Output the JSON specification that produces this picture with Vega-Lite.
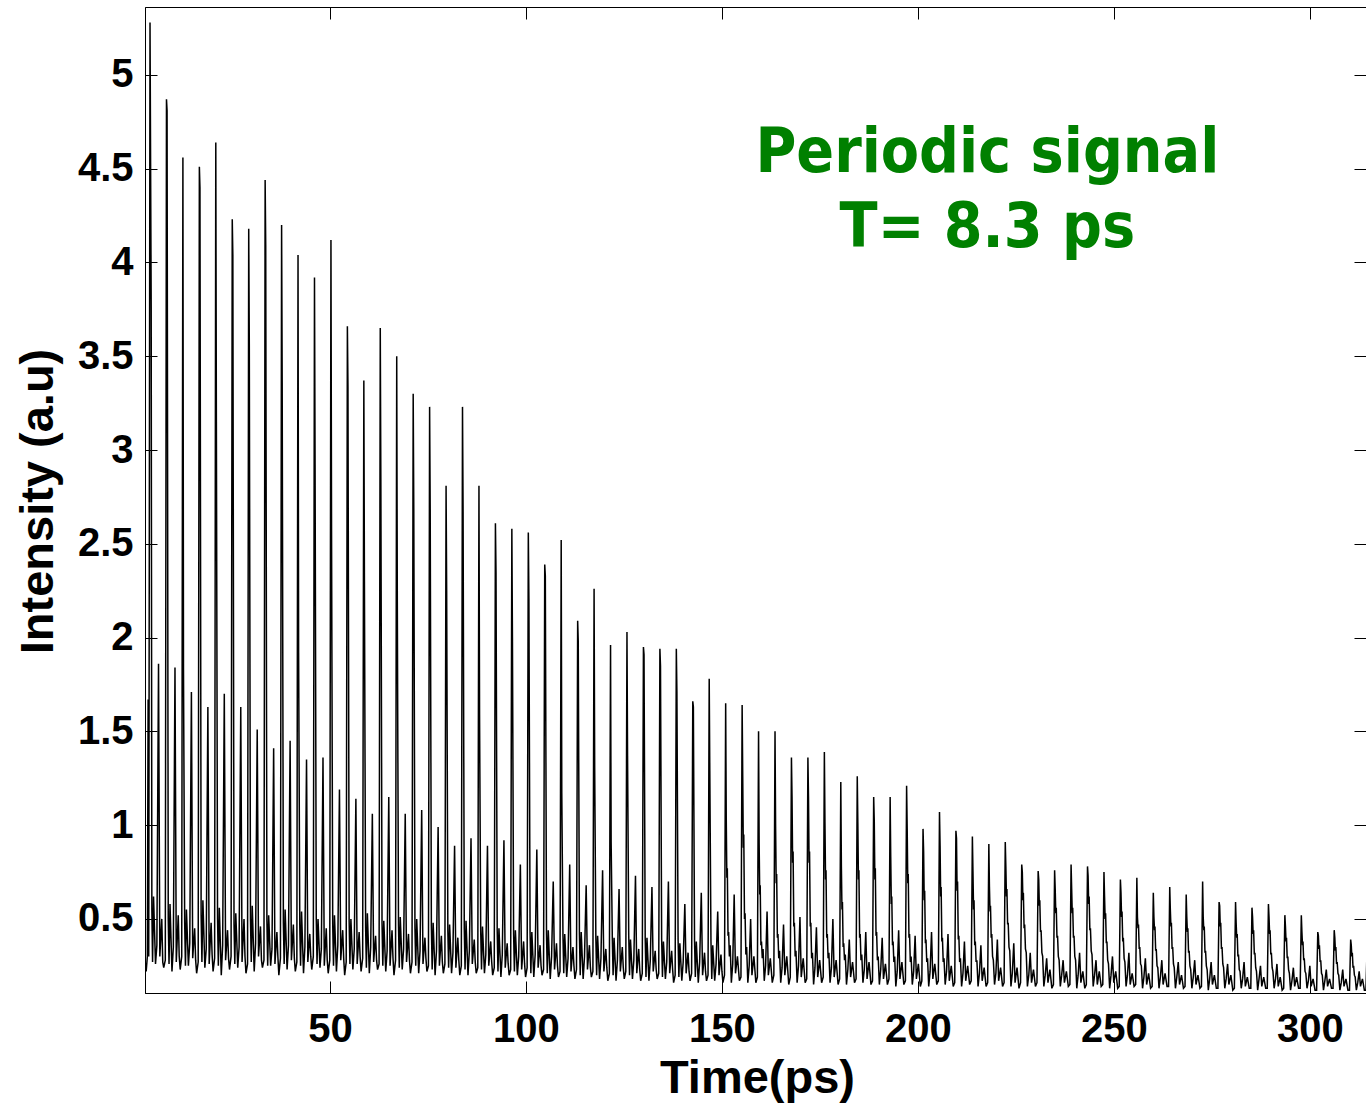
{
"$schema":"https://vega.github.io/schema/vega-lite/v6.json",
"width":1221,"height":986,
"autosize":"none",
"padding":{"left":145,"top":7,"right":0,"bottom":112},
"background":"white",
"config":{
 "view":{"stroke":"black","strokeWidth":1},
 "axis":{"grid":false,"domainColor":"black","domainWidth":1,"tickColor":"black","tickWidth":1,"tickSize":-12,"labelColor":"black","labelFont":"Liberation Sans","labelFontWeight":"bold","labelFontSize":40,"labelFlush":false,"labelOverlap":false,"titleFont":"Liberation Sans","titleFontWeight":"bold","titleFontSize":47,"titleColor":"black"}
},
"datasets":{
"notes":[{"t":217.7,"v":4.483,"label":"Periodic signal"},{"t":217.7,"v":4.084,"label":"T= 8.3 ps"}],
"signal":[
{"t":2.8,"v":0.26},{"t":3.1,"v":0.22},{"t":3.4,"v":0.3},{"t":3.6,"v":1.67},{"t":3.75,"v":0.3},
{"t":4.08,"v":5.28},{"t":4.38,"v":3.76},{"t":4.55,"v":0.55},{"t":4.73,"v":0.27},{"t":4.98,"v":0.62},{"t":5.48,"v":0.26},{"t":5.83,"v":0.36},{"t":6.25,"v":1.86},{"t":6.58,"v":0.3},{"t":7.08,"v":0.5},{"t":7.33,"v":0.27},{"t":7.58,"v":0.24},
{"t":7.98,"v":0.28},{"t":8.28,"v":4.87},{"t":8.43,"v":4.81},{"t":8.73,"v":0.5},{"t":8.93,"v":0.26},{"t":9.18,"v":0.58},{"t":9.68,"v":0.22},{"t":10.03,"v":0.35},{"t":10.45,"v":1.84},{"t":10.78,"v":0.27},{"t":11.28,"v":0.52},{"t":11.53,"v":0.3},{"t":11.78,"v":0.23},
{"t":12.17,"v":0.3},{"t":12.47,"v":4.56},{"t":12.62,"v":1.83},{"t":12.92,"v":0.48},{"t":13.12,"v":0.25},{"t":13.37,"v":0.55},{"t":13.87,"v":0.25},{"t":14.22,"v":0.37},{"t":14.64,"v":1.71},{"t":14.97,"v":0.29},{"t":15.47,"v":0.45},{"t":15.72,"v":0.28},{"t":15.97,"v":0.21},
{"t":16.37,"v":0.27},{"t":16.67,"v":4.51},{"t":16.82,"v":4.4},{"t":17.12,"v":0.52},{"t":17.32,"v":0.27},{"t":17.57,"v":0.6},{"t":18.07,"v":0.24},{"t":18.42,"v":0.34},{"t":18.84,"v":1.63},{"t":19.17,"v":0.26},{"t":19.67,"v":0.48},{"t":19.92,"v":0.31},{"t":20.17,"v":0.22},
{"t":20.56,"v":0.29},{"t":20.86,"v":4.64},{"t":21.01,"v":3.15},{"t":21.31,"v":0.5},{"t":21.51,"v":0.25},{"t":21.76,"v":0.56},{"t":22.26,"v":0.2},{"t":22.61,"v":0.36},{"t":23.03,"v":1.7},{"t":23.36,"v":0.28},{"t":23.86,"v":0.44},{"t":24.11,"v":0.29},{"t":24.36,"v":0.23},
{"t":24.76,"v":0.3},{"t":25.06,"v":4.23},{"t":25.21,"v":4.04},{"t":25.51,"v":0.47},{"t":25.71,"v":0.26},{"t":25.96,"v":0.53},{"t":26.46,"v":0.24},{"t":26.81,"v":0.35},{"t":27.23,"v":1.63},{"t":27.56,"v":0.27},{"t":28.06,"v":0.5},{"t":28.31,"v":0.3},{"t":28.56,"v":0.21},
{"t":28.96,"v":0.26},{"t":29.26,"v":4.18},{"t":29.41,"v":3.56},{"t":29.71,"v":0.5},{"t":29.91,"v":0.27},{"t":30.16,"v":0.57},{"t":30.66,"v":0.22},{"t":31.01,"v":0.37},{"t":31.43,"v":1.51},{"t":31.76,"v":0.3},{"t":32.26,"v":0.46},{"t":32.51,"v":0.28},{"t":32.76,"v":0.24},
{"t":33.15,"v":0.28},{"t":33.45,"v":4.44},{"t":33.6,"v":4.09},{"t":33.9,"v":0.49},{"t":34.1,"v":0.25},{"t":34.35,"v":0.52},{"t":34.85,"v":0.25},{"t":35.2,"v":0.34},{"t":35.62,"v":1.41},{"t":35.95,"v":0.26},{"t":36.45,"v":0.43},{"t":36.7,"v":0.3},{"t":36.95,"v":0.2},
{"t":37.35,"v":0.29},{"t":37.65,"v":4.2},{"t":37.8,"v":3.36},{"t":38.1,"v":0.48},{"t":38.3,"v":0.26},{"t":38.55,"v":0.55},{"t":39.05,"v":0.23},{"t":39.4,"v":0.36},{"t":39.82,"v":1.45},{"t":40.15,"v":0.28},{"t":40.65,"v":0.47},{"t":40.9,"v":0.29},{"t":41.15,"v":0.22},
{"t":41.54,"v":0.27},{"t":41.84,"v":4.04},{"t":41.99,"v":1.92},{"t":42.29,"v":0.46},{"t":42.49,"v":0.25},{"t":42.74,"v":0.54},{"t":43.24,"v":0.21},{"t":43.59,"v":0.35},{"t":44.01,"v":1.35},{"t":44.34,"v":0.27},{"t":44.84,"v":0.42},{"t":45.09,"v":0.3},{"t":45.34,"v":0.23},
{"t":45.74,"v":0.3},{"t":46.04,"v":3.92},{"t":46.19,"v":2.92},{"t":46.49,"v":0.5},{"t":46.69,"v":0.26},{"t":46.94,"v":0.5},{"t":47.44,"v":0.24},{"t":47.79,"v":0.34},{"t":48.21,"v":1.36},{"t":48.54,"v":0.25},{"t":49.04,"v":0.45},{"t":49.29,"v":0.28},{"t":49.54,"v":0.21},
{"t":49.94,"v":0.28},{"t":50.24,"v":4.12},{"t":50.39,"v":2.57},{"t":50.69,"v":0.47},{"t":50.89,"v":0.25},{"t":51.14,"v":0.52},{"t":51.64,"v":0.22},{"t":51.99,"v":0.36},{"t":52.41,"v":1.19},{"t":52.74,"v":0.28},{"t":53.24,"v":0.44},{"t":53.49,"v":0.29},{"t":53.74,"v":0.2},
{"t":54.13,"v":0.27},{"t":54.43,"v":3.66},{"t":54.58,"v":3.34},{"t":54.88,"v":0.49},{"t":55.08,"v":0.26},{"t":55.33,"v":0.5},{"t":55.83,"v":0.23},{"t":56.18,"v":0.34},{"t":56.6,"v":1.14},{"t":56.93,"v":0.26},{"t":57.43,"v":0.43},{"t":57.68,"v":0.3},{"t":57.93,"v":0.22},
{"t":58.33,"v":0.29},{"t":58.63,"v":3.37},{"t":58.78,"v":2.3},{"t":59.08,"v":0.46},{"t":59.28,"v":0.24},{"t":59.53,"v":0.53},{"t":60.03,"v":0.21},{"t":60.38,"v":0.35},{"t":60.8,"v":1.06},{"t":61.13,"v":0.27},{"t":61.63,"v":0.41},{"t":61.88,"v":0.28},{"t":62.13,"v":0.23},
{"t":62.52,"v":0.26},{"t":62.82,"v":3.65},{"t":62.97,"v":2.84},{"t":63.27,"v":0.48},{"t":63.47,"v":0.25},{"t":63.72,"v":0.49},{"t":64.22,"v":0.22},{"t":64.57,"v":0.33},{"t":64.99,"v":1.15},{"t":65.32,"v":0.25},{"t":65.82,"v":0.44},{"t":66.07,"v":0.29},{"t":66.32,"v":0.2},
{"t":66.72,"v":0.28},{"t":67.02,"v":3.5},{"t":67.17,"v":2.19},{"t":67.47,"v":0.47},{"t":67.67,"v":0.24},{"t":67.92,"v":0.51},{"t":68.42,"v":0.23},{"t":68.77,"v":0.34},{"t":69.19,"v":1.06},{"t":69.52,"v":0.27},{"t":70.02,"v":0.42},{"t":70.27,"v":0.28},{"t":70.52,"v":0.21},
{"t":70.92,"v":0.27},{"t":71.22,"v":3.3},{"t":71.37,"v":2.69},{"t":71.67,"v":0.45},{"t":71.87,"v":0.25},{"t":72.12,"v":0.5},{"t":72.62,"v":0.21},{"t":72.97,"v":0.33},{"t":73.39,"v":1.08},{"t":73.72,"v":0.26},{"t":74.22,"v":0.4},{"t":74.47,"v":0.29},{"t":74.72,"v":0.22},
{"t":75.11,"v":0.25},{"t":75.41,"v":3.23},{"t":75.56,"v":2.68},{"t":75.86,"v":0.46},{"t":76.06,"v":0.23},{"t":76.31,"v":0.48},{"t":76.81,"v":0.2},{"t":77.16,"v":0.33},{"t":77.58,"v":0.99},{"t":77.91,"v":0.25},{"t":78.41,"v":0.41},{"t":78.66,"v":0.27},{"t":78.91,"v":0.21},
{"t":79.31,"v":0.26},{"t":79.61,"v":2.81},{"t":79.76,"v":2.25},{"t":80.06,"v":0.44},{"t":80.26,"v":0.24},{"t":80.51,"v":0.47},{"t":81.01,"v":0.21},{"t":81.36,"v":0.32},{"t":81.78,"v":0.89},{"t":82.11,"v":0.24},{"t":82.61,"v":0.4},{"t":82.86,"v":0.28},{"t":83.11,"v":0.2},
{"t":83.5,"v":0.25},{"t":83.8,"v":3.23},{"t":83.95,"v":2.67},{"t":84.25,"v":0.45},{"t":84.45,"v":0.23},{"t":84.7,"v":0.49},{"t":85.2,"v":0.2},{"t":85.55,"v":0.33},{"t":85.97,"v":0.93},{"t":86.3,"v":0.26},{"t":86.8,"v":0.39},{"t":87.05,"v":0.27},{"t":87.3,"v":0.21},
{"t":87.7,"v":0.24},{"t":88.0,"v":2.81},{"t":88.15,"v":1.59},{"t":88.45,"v":0.43},{"t":88.65,"v":0.23},{"t":88.9,"v":0.46},{"t":89.4,"v":0.21},{"t":89.75,"v":0.31},{"t":90.17,"v":0.89},{"t":90.5,"v":0.25},{"t":91.0,"v":0.38},{"t":91.25,"v":0.27},{"t":91.5,"v":0.2},
{"t":91.9,"v":0.24},{"t":92.2,"v":2.61},{"t":92.35,"v":2.35},{"t":92.65,"v":0.44},{"t":92.85,"v":0.22},{"t":93.1,"v":0.45},{"t":93.6,"v":0.19},{"t":93.95,"v":0.31},{"t":94.37,"v":0.92},{"t":94.7,"v":0.24},{"t":95.2,"v":0.37},{"t":95.45,"v":0.26},{"t":95.7,"v":0.2},
{"t":96.09,"v":0.23},{"t":96.39,"v":2.58},{"t":96.54,"v":2.0},{"t":96.84,"v":0.42},{"t":97.04,"v":0.22},{"t":97.29,"v":0.44},{"t":97.79,"v":0.2},{"t":98.14,"v":0.3},{"t":98.56,"v":0.79},{"t":98.89,"v":0.23},{"t":99.39,"v":0.38},{"t":99.64,"v":0.26},{"t":99.89,"v":0.19},
{"t":100.29,"v":0.24},{"t":100.59,"v":2.56},{"t":100.74,"v":2.21},{"t":101.04,"v":0.43},{"t":101.24,"v":0.21},{"t":101.49,"v":0.43},{"t":101.99,"v":0.19},{"t":102.34,"v":0.31},{"t":102.76,"v":0.87},{"t":103.09,"v":0.24},{"t":103.59,"v":0.36},{"t":103.84,"v":0.25},{"t":104.09,"v":0.2},
{"t":104.48,"v":0.23},{"t":104.78,"v":2.39},{"t":104.93,"v":2.33},{"t":105.23,"v":0.42},{"t":105.43,"v":0.21},{"t":105.68,"v":0.44},{"t":106.18,"v":0.18},{"t":106.53,"v":0.3},{"t":106.95,"v":0.7},{"t":107.28,"v":0.23},{"t":107.78,"v":0.37},{"t":108.03,"v":0.25},{"t":108.28,"v":0.19},
{"t":108.68,"v":0.22},{"t":108.98,"v":2.52},{"t":109.13,"v":1.17},{"t":109.43,"v":0.41},{"t":109.63,"v":0.21},{"t":109.88,"v":0.42},{"t":110.38,"v":0.19},{"t":110.73,"v":0.29},{"t":111.15,"v":0.79},{"t":111.48,"v":0.22},{"t":111.98,"v":0.35},{"t":112.23,"v":0.25},{"t":112.48,"v":0.18},
{"t":112.88,"v":0.23},{"t":113.18,"v":2.09},{"t":113.33,"v":1.98},{"t":113.63,"v":0.42},{"t":113.83,"v":0.2},{"t":114.08,"v":0.43},{"t":114.58,"v":0.18},{"t":114.93,"v":0.3},{"t":115.35,"v":0.68},{"t":115.68,"v":0.23},{"t":116.18,"v":0.36},{"t":116.43,"v":0.24},{"t":116.68,"v":0.19},
{"t":117.07,"v":0.22},{"t":117.37,"v":2.26},{"t":117.52,"v":1.31},{"t":117.82,"v":0.4},{"t":118.02,"v":0.2},{"t":118.27,"v":0.41},{"t":118.77,"v":0.18},{"t":119.12,"v":0.29},{"t":119.54,"v":0.76},{"t":119.87,"v":0.22},{"t":120.37,"v":0.34},{"t":120.62,"v":0.24},{"t":120.87,"v":0.17},
{"t":121.27,"v":0.21},{"t":121.57,"v":1.96},{"t":121.72,"v":0.91},{"t":122.02,"v":0.4},{"t":122.22,"v":0.2},{"t":122.47,"v":0.4},{"t":122.97,"v":0.17},{"t":123.32,"v":0.28},{"t":123.74,"v":0.66},{"t":124.07,"v":0.22},{"t":124.57,"v":0.35},{"t":124.82,"v":0.24},{"t":125.07,"v":0.18},
{"t":125.46,"v":0.22},{"t":125.76,"v":2.03},{"t":125.91,"v":1.37},{"t":126.21,"v":0.41},{"t":126.41,"v":0.2},{"t":126.66,"v":0.39},{"t":127.16,"v":0.18},{"t":127.51,"v":0.28},{"t":127.93,"v":0.73},{"t":128.26,"v":0.21},{"t":128.76,"v":0.34},{"t":129.01,"v":0.23},{"t":129.26,"v":0.17},
{"t":129.66,"v":0.21},{"t":129.96,"v":1.95},{"t":130.11,"v":1.91},{"t":130.41,"v":0.4},{"t":130.61,"v":0.19},{"t":130.86,"v":0.4},{"t":131.36,"v":0.17},{"t":131.71,"v":0.28},{"t":132.13,"v":0.67},{"t":132.46,"v":0.22},{"t":132.96,"v":0.33},{"t":133.21,"v":0.23},{"t":133.46,"v":0.18},
{"t":133.86,"v":0.21},{"t":134.16,"v":1.94},{"t":134.31,"v":1.85},{"t":134.61,"v":0.39},{"t":134.81,"v":0.19},{"t":135.06,"v":0.38},{"t":135.56,"v":0.18},{"t":135.91,"v":0.27},{"t":136.33,"v":0.7},{"t":136.66,"v":0.21},{"t":137.16,"v":0.33},{"t":137.41,"v":0.23},{"t":137.66,"v":0.16},
{"t":138.05,"v":0.2},{"t":138.35,"v":1.94},{"t":138.5,"v":1.71},{"t":138.8,"v":0.39},{"t":139.0,"v":0.19},{"t":139.25,"v":0.37},{"t":139.75,"v":0.17},{"t":140.1,"v":0.27},{"t":140.52,"v":0.58},{"t":140.85,"v":0.21},{"t":141.35,"v":0.32},{"t":141.6,"v":0.22},{"t":141.85,"v":0.17},
{"t":142.25,"v":0.21},{"t":142.55,"v":1.66},{"t":142.7,"v":1.63},{"t":143.0,"v":0.38},{"t":143.2,"v":0.19},{"t":143.45,"v":0.38},{"t":143.95,"v":0.16},{"t":144.3,"v":0.27},{"t":144.72,"v":0.64},{"t":145.05,"v":0.2},{"t":145.55,"v":0.32},{"t":145.8,"v":0.22},{"t":146.05,"v":0.17},
{"t":146.44,"v":0.2},{"t":146.74,"v":1.78},{"t":146.89,"v":1.29},{"t":147.19,"v":0.38},{"t":147.39,"v":0.18},{"t":147.64,"v":0.36},{"t":148.14,"v":0.17},{"t":148.49,"v":0.26},{"t":148.91,"v":0.54},{"t":149.24,"v":0.2},{"t":149.74,"v":0.31},{"t":149.99,"v":0.22},{"t":150.24,"v":0.16},
{"t":150.64,"v":0.2},{"t":150.94,"v":1.65},{"t":151.09,"v":1.03},{"t":151.24,"v":0.72},{"t":151.36,"v":0.77},{"t":151.54,"v":0.41},{"t":151.69,"v":0.43},{"t":151.89,"v":0.3},{"t":152.09,"v":0.36},{"t":152.39,"v":0.16},{"t":152.74,"v":0.26},{"t":153.11,"v":0.63},{"t":153.44,"v":0.21},{"t":153.94,"v":0.3},{"t":154.44,"v":0.17},
{"t":154.84,"v":0.19},{"t":155.14,"v":1.64},{"t":155.29,"v":1.26},{"t":155.44,"v":0.88},{"t":155.56,"v":0.95},{"t":155.74,"v":0.5},{"t":155.89,"v":0.53},{"t":156.09,"v":0.31},{"t":156.29,"v":0.35},{"t":156.59,"v":0.16},{"t":156.94,"v":0.25},{"t":157.31,"v":0.5},{"t":157.64,"v":0.2},{"t":158.14,"v":0.3},{"t":158.64,"v":0.16},
{"t":159.03,"v":0.19},{"t":159.33,"v":1.5},{"t":159.48,"v":0.9},{"t":159.63,"v":0.63},{"t":159.75,"v":0.68},{"t":159.93,"v":0.36},{"t":160.08,"v":0.38},{"t":160.28,"v":0.29},{"t":160.48,"v":0.34},{"t":160.78,"v":0.17},{"t":161.13,"v":0.25},{"t":161.5,"v":0.54},{"t":161.83,"v":0.2},{"t":162.33,"v":0.29},{"t":162.83,"v":0.16},
{"t":163.23,"v":0.2},{"t":163.53,"v":1.5},{"t":163.68,"v":0.99},{"t":163.83,"v":0.69},{"t":163.95,"v":0.74},{"t":164.13,"v":0.4},{"t":164.28,"v":0.42},{"t":164.48,"v":0.29},{"t":164.68,"v":0.33},{"t":164.98,"v":0.16},{"t":165.33,"v":0.24},{"t":165.7,"v":0.47},{"t":166.03,"v":0.2},{"t":166.53,"v":0.3},{"t":167.03,"v":0.15},
{"t":167.42,"v":0.19},{"t":167.72,"v":1.36},{"t":167.87,"v":1.15},{"t":168.02,"v":0.8},{"t":168.14,"v":0.86},{"t":168.32,"v":0.46},{"t":168.47,"v":0.48},{"t":168.67,"v":0.3},{"t":168.87,"v":0.33},{"t":169.17,"v":0.16},{"t":169.52,"v":0.25},{"t":169.89,"v":0.51},{"t":170.22,"v":0.19},{"t":170.72,"v":0.29},{"t":171.22,"v":0.16},
{"t":171.62,"v":0.18},{"t":171.92,"v":1.36},{"t":172.07,"v":1.15},{"t":172.22,"v":0.8},{"t":172.34,"v":0.86},{"t":172.52,"v":0.46},{"t":172.67,"v":0.48},{"t":172.87,"v":0.29},{"t":173.07,"v":0.32},{"t":173.37,"v":0.15},{"t":173.72,"v":0.24},{"t":174.09,"v":0.455},{"t":174.42,"v":0.19},{"t":174.92,"v":0.28},{"t":175.42,"v":0.16},
{"t":175.82,"v":0.19},{"t":176.12,"v":1.39},{"t":176.27,"v":1.01},{"t":176.42,"v":0.71},{"t":176.54,"v":0.76},{"t":176.72,"v":0.4},{"t":176.87,"v":0.42},{"t":177.07,"v":0.29},{"t":177.27,"v":0.32},{"t":177.57,"v":0.16},{"t":177.92,"v":0.24},{"t":178.29,"v":0.5},{"t":178.62,"v":0.19},{"t":179.12,"v":0.28},{"t":179.62,"v":0.15},
{"t":180.01,"v":0.18},{"t":180.31,"v":1.23},{"t":180.46,"v":0.78},{"t":180.61,"v":0.55},{"t":180.73,"v":0.59},{"t":180.91,"v":0.35},{"t":181.06,"v":0.37},{"t":181.26,"v":0.28},{"t":181.46,"v":0.31},{"t":181.76,"v":0.15},{"t":182.11,"v":0.23},{"t":182.48,"v":0.39},{"t":182.81,"v":0.19},{"t":183.31,"v":0.27},{"t":183.81,"v":0.16},
{"t":184.21,"v":0.18},{"t":184.51,"v":1.26},{"t":184.66,"v":1.01},{"t":184.81,"v":0.71},{"t":184.93,"v":0.76},{"t":185.11,"v":0.4},{"t":185.26,"v":0.42},{"t":185.46,"v":0.28},{"t":185.66,"v":0.31},{"t":185.96,"v":0.16},{"t":186.31,"v":0.23},{"t":186.68,"v":0.43},{"t":187.01,"v":0.18},{"t":187.51,"v":0.27},{"t":188.01,"v":0.15},
{"t":188.4,"v":0.17},{"t":188.7,"v":1.15},{"t":188.85,"v":1.02},{"t":189.0,"v":0.71},{"t":189.12,"v":0.77},{"t":189.3,"v":0.41},{"t":189.45,"v":0.43},{"t":189.65,"v":0.28},{"t":189.85,"v":0.3},{"t":190.15,"v":0.15},{"t":190.5,"v":0.23},{"t":190.87,"v":0.4},{"t":191.2,"v":0.18},{"t":191.7,"v":0.26},{"t":192.2,"v":0.15},
{"t":192.6,"v":0.18},{"t":192.9,"v":1.15},{"t":193.05,"v":0.83},{"t":193.2,"v":0.58},{"t":193.32,"v":0.62},{"t":193.5,"v":0.36},{"t":193.65,"v":0.38},{"t":193.85,"v":0.27},{"t":194.05,"v":0.3},{"t":194.35,"v":0.14},{"t":194.7,"v":0.22},{"t":195.07,"v":0.44},{"t":195.4,"v":0.18},{"t":195.9,"v":0.27},{"t":196.4,"v":0.15},
{"t":196.8,"v":0.17},{"t":197.1,"v":1.21},{"t":197.25,"v":0.98},{"t":197.4,"v":0.69},{"t":197.52,"v":0.74},{"t":197.7,"v":0.4},{"t":197.85,"v":0.42},{"t":198.05,"v":0.27},{"t":198.25,"v":0.3},{"t":198.55,"v":0.15},{"t":198.9,"v":0.22},{"t":199.27,"v":0.41},{"t":199.6,"v":0.18},{"t":200.1,"v":0.26},{"t":200.6,"v":0.14},
{"t":200.99,"v":0.17},{"t":201.29,"v":0.98},{"t":201.44,"v":0.86},{"t":201.59,"v":0.6},{"t":201.71,"v":0.65},{"t":201.89,"v":0.37},{"t":202.04,"v":0.39},{"t":202.24,"v":0.27},{"t":202.44,"v":0.29},{"t":202.74,"v":0.14},{"t":203.09,"v":0.22},{"t":203.46,"v":0.43},{"t":203.79,"v":0.18},{"t":204.29,"v":0.26},{"t":204.79,"v":0.15},
{"t":205.19,"v":0.17},{"t":205.49,"v":1.07},{"t":205.64,"v":0.89},{"t":205.79,"v":0.62},{"t":205.91,"v":0.67},{"t":206.09,"v":0.38},{"t":206.24,"v":0.4},{"t":206.44,"v":0.27},{"t":206.64,"v":0.29},{"t":206.94,"v":0.15},{"t":207.29,"v":0.22},{"t":207.66,"v":0.42},{"t":207.99,"v":0.17},{"t":208.49,"v":0.25},{"t":208.99,"v":0.14},
{"t":209.38,"v":0.16},{"t":209.68,"v":0.97},{"t":209.83,"v":0.93},{"t":209.98,"v":0.65},{"t":210.1,"v":0.7},{"t":210.28,"v":0.39},{"t":210.43,"v":0.41},{"t":210.63,"v":0.27},{"t":210.83,"v":0.29},{"t":211.13,"v":0.14},{"t":211.48,"v":0.21},{"t":211.85,"v":0.38},{"t":212.18,"v":0.17},{"t":212.68,"v":0.25},{"t":213.18,"v":0.15},
{"t":213.58,"v":0.17},{"t":213.88,"v":0.94},{"t":214.03,"v":0.75},{"t":214.18,"v":0.55},{"t":214.3,"v":0.6},{"t":214.48,"v":0.36},{"t":214.63,"v":0.38},{"t":214.83,"v":0.27},{"t":215.03,"v":0.28},{"t":215.33,"v":0.14},{"t":215.68,"v":0.21},{"t":216.05,"v":0.36},{"t":216.38,"v":0.17},{"t":216.88,"v":0.24},{"t":217.38,"v":0.14},
{"t":217.78,"v":0.16},{"t":218.08,"v":0.9},{"t":218.23,"v":0.67},{"t":218.38,"v":0.54},{"t":218.5,"v":0.57},{"t":218.68,"v":0.4},{"t":218.83,"v":0.42},{"t":219.03,"v":0.3},{"t":219.23,"v":0.28},{"t":219.53,"v":0.15},{"t":219.88,"v":0.21},{"t":220.25,"v":0.39},{"t":220.58,"v":0.17},{"t":221.08,"v":0.24},{"t":221.58,"v":0.14},
{"t":221.97,"v":0.16},{"t":222.27,"v":0.91},{"t":222.42,"v":0.78},{"t":222.57,"v":0.62},{"t":222.69,"v":0.66},{"t":222.87,"v":0.47},{"t":223.02,"v":0.48},{"t":223.22,"v":0.35},{"t":223.42,"v":0.33},{"t":223.72,"v":0.14},{"t":224.07,"v":0.21},{"t":224.44,"v":0.37},{"t":224.77,"v":0.16},{"t":225.27,"v":0.24},{"t":225.77,"v":0.13},
{"t":226.17,"v":0.16},{"t":226.47,"v":0.79},{"t":226.62,"v":0.75},{"t":226.77,"v":0.6},{"t":226.89,"v":0.64},{"t":227.07,"v":0.45},{"t":227.22,"v":0.47},{"t":227.42,"v":0.34},{"t":227.62,"v":0.32},{"t":227.92,"v":0.14},{"t":228.27,"v":0.2},{"t":228.64,"v":0.32},{"t":228.97,"v":0.16},{"t":229.47,"v":0.23},{"t":229.97,"v":0.14},
{"t":230.36,"v":0.16},{"t":230.66,"v":0.755},{"t":230.81,"v":0.71},{"t":230.96,"v":0.57},{"t":231.08,"v":0.6},{"t":231.26,"v":0.43},{"t":231.41,"v":0.44},{"t":231.61,"v":0.32},{"t":231.81,"v":0.3},{"t":232.11,"v":0.14},{"t":232.46,"v":0.2},{"t":232.83,"v":0.29},{"t":233.16,"v":0.16},{"t":233.66,"v":0.23},{"t":234.16,"v":0.13},
{"t":234.56,"v":0.15},{"t":234.86,"v":0.76},{"t":235.01,"v":0.66},{"t":235.16,"v":0.53},{"t":235.28,"v":0.56},{"t":235.46,"v":0.4},{"t":235.61,"v":0.41},{"t":235.81,"v":0.3},{"t":236.01,"v":0.28},{"t":236.31,"v":0.14},{"t":236.66,"v":0.2},{"t":237.03,"v":0.28},{"t":237.36,"v":0.16},{"t":237.86,"v":0.22},{"t":238.36,"v":0.14},
{"t":238.76,"v":0.15},{"t":239.06,"v":0.79},{"t":239.21,"v":0.66},{"t":239.36,"v":0.53},{"t":239.48,"v":0.56},{"t":239.66,"v":0.4},{"t":239.81,"v":0.41},{"t":240.01,"v":0.3},{"t":240.21,"v":0.28},{"t":240.51,"v":0.13},{"t":240.86,"v":0.2},{"t":241.23,"v":0.32},{"t":241.56,"v":0.16},{"t":242.06,"v":0.22},{"t":242.56,"v":0.13},
{"t":242.95,"v":0.15},{"t":243.25,"v":0.78},{"t":243.4,"v":0.73},{"t":243.55,"v":0.58},{"t":243.67,"v":0.62},{"t":243.85,"v":0.44},{"t":244.0,"v":0.45},{"t":244.2,"v":0.33},{"t":244.4,"v":0.31},{"t":244.7,"v":0.14},{"t":245.05,"v":0.2},{"t":245.42,"v":0.28},{"t":245.75,"v":0.15},{"t":246.25,"v":0.22},{"t":246.75,"v":0.14},
{"t":247.15,"v":0.15},{"t":247.45,"v":0.75},{"t":247.6,"v":0.62},{"t":247.75,"v":0.5},{"t":247.87,"v":0.53},{"t":248.05,"v":0.37},{"t":248.2,"v":0.38},{"t":248.4,"v":0.28},{"t":248.6,"v":0.26},{"t":248.9,"v":0.13},{"t":249.25,"v":0.2},{"t":249.62,"v":0.3},{"t":249.95,"v":0.16},{"t":250.45,"v":0.22},{"t":250.95,"v":0.13},
{"t":251.34,"v":0.14},{"t":251.64,"v":0.71},{"t":251.79,"v":0.64},{"t":251.94,"v":0.51},{"t":252.06,"v":0.54},{"t":252.24,"v":0.38},{"t":252.39,"v":0.4},{"t":252.59,"v":0.29},{"t":252.79,"v":0.27},{"t":253.09,"v":0.14},{"t":253.44,"v":0.2},{"t":253.81,"v":0.32},{"t":254.14,"v":0.15},{"t":254.64,"v":0.21},{"t":255.14,"v":0.14},
{"t":255.54,"v":0.15},{"t":255.84,"v":0.72},{"t":255.99,"v":0.51},{"t":256.14,"v":0.45},{"t":256.26,"v":0.47},{"t":256.44,"v":0.34},{"t":256.59,"v":0.35},{"t":256.79,"v":0.26},{"t":256.99,"v":0.25},{"t":257.29,"v":0.13},{"t":257.64,"v":0.19},{"t":258.01,"v":0.29},{"t":258.34,"v":0.15},{"t":258.84,"v":0.21},{"t":259.34,"v":0.13},
{"t":259.74,"v":0.14},{"t":260.04,"v":0.64},{"t":260.19,"v":0.51},{"t":260.34,"v":0.44},{"t":260.46,"v":0.46},{"t":260.64,"v":0.33},{"t":260.79,"v":0.34},{"t":260.99,"v":0.25},{"t":261.19,"v":0.24},{"t":261.49,"v":0.13},{"t":261.84,"v":0.19},{"t":262.21,"v":0.28},{"t":262.54,"v":0.15},{"t":263.04,"v":0.21},{"t":263.54,"v":0.14},
{"t":263.93,"v":0.14},{"t":264.23,"v":0.67},{"t":264.38,"v":0.55},{"t":264.53,"v":0.46},{"t":264.65,"v":0.48},{"t":264.83,"v":0.34},{"t":264.98,"v":0.35},{"t":265.18,"v":0.26},{"t":265.38,"v":0.24},{"t":265.68,"v":0.13},{"t":266.03,"v":0.19},{"t":266.4,"v":0.27},{"t":266.73,"v":0.15},{"t":267.23,"v":0.2},{"t":267.73,"v":0.13},
{"t":268.13,"v":0.14},{"t":268.43,"v":0.63},{"t":268.58,"v":0.51},{"t":268.73,"v":0.43},{"t":268.85,"v":0.45},{"t":269.03,"v":0.32},{"t":269.18,"v":0.33},{"t":269.38,"v":0.25},{"t":269.58,"v":0.23},{"t":269.88,"v":0.13},{"t":270.23,"v":0.19},{"t":270.6,"v":0.28},{"t":270.93,"v":0.15},{"t":271.43,"v":0.2},{"t":271.93,"v":0.13},
{"t":272.32,"v":0.14},{"t":272.62,"v":0.7},{"t":272.77,"v":0.51},{"t":272.92,"v":0.44},{"t":273.04,"v":0.46},{"t":273.22,"v":0.32},{"t":273.37,"v":0.33},{"t":273.57,"v":0.25},{"t":273.77,"v":0.23},{"t":274.07,"v":0.12},{"t":274.42,"v":0.18},{"t":274.79,"v":0.27},{"t":275.12,"v":0.15},{"t":275.62,"v":0.2},{"t":276.12,"v":0.13},
{"t":276.52,"v":0.13},{"t":276.82,"v":0.59},{"t":276.97,"v":0.57},{"t":277.12,"v":0.46},{"t":277.24,"v":0.48},{"t":277.42,"v":0.34},{"t":277.57,"v":0.35},{"t":277.77,"v":0.26},{"t":277.97,"v":0.24},{"t":278.27,"v":0.13},{"t":278.62,"v":0.18},{"t":278.99,"v":0.26},{"t":279.32,"v":0.15},{"t":279.82,"v":0.2},{"t":280.32,"v":0.12},
{"t":280.72,"v":0.13},{"t":281.02,"v":0.59},{"t":281.17,"v":0.48},{"t":281.32,"v":0.4},{"t":281.44,"v":0.42},{"t":281.62,"v":0.3},{"t":281.77,"v":0.31},{"t":281.97,"v":0.23},{"t":282.17,"v":0.22},{"t":282.47,"v":0.13},{"t":282.82,"v":0.18},{"t":283.19,"v":0.27},{"t":283.52,"v":0.14},{"t":284.02,"v":0.19},{"t":284.52,"v":0.13},
{"t":284.91,"v":0.13},{"t":285.21,"v":0.56},{"t":285.36,"v":0.51},{"t":285.51,"v":0.42},{"t":285.63,"v":0.44},{"t":285.81,"v":0.31},{"t":285.96,"v":0.32},{"t":286.16,"v":0.24},{"t":286.36,"v":0.22},{"t":286.66,"v":0.12},{"t":287.01,"v":0.18},{"t":287.38,"v":0.25},{"t":287.71,"v":0.14},{"t":288.21,"v":0.19},{"t":288.71,"v":0.13},
{"t":289.11,"v":0.13},{"t":289.41,"v":0.58},{"t":289.56,"v":0.51},{"t":289.71,"v":0.42},{"t":289.83,"v":0.44},{"t":290.01,"v":0.31},{"t":290.16,"v":0.32},{"t":290.36,"v":0.24},{"t":290.56,"v":0.22},{"t":290.86,"v":0.13},{"t":291.21,"v":0.18},{"t":291.58,"v":0.26},{"t":291.91,"v":0.14},{"t":292.41,"v":0.19},{"t":292.91,"v":0.12},
{"t":293.3,"v":0.13},{"t":293.6,"v":0.52},{"t":293.75,"v":0.46},{"t":293.9,"v":0.38},{"t":294.02,"v":0.4},{"t":294.2,"v":0.29},{"t":294.35,"v":0.3},{"t":294.55,"v":0.23},{"t":294.75,"v":0.21},{"t":295.05,"v":0.12},{"t":295.4,"v":0.17},{"t":295.77,"v":0.24},{"t":296.1,"v":0.14},{"t":296.6,"v":0.19},{"t":297.1,"v":0.13},
{"t":297.5,"v":0.13},{"t":297.8,"v":0.52},{"t":297.95,"v":0.43},{"t":298.1,"v":0.36},{"t":298.22,"v":0.38},{"t":298.4,"v":0.28},{"t":298.55,"v":0.29},{"t":298.75,"v":0.22},{"t":298.95,"v":0.21},{"t":299.25,"v":0.13},{"t":299.6,"v":0.17},{"t":299.97,"v":0.25},{"t":300.3,"v":0.14},{"t":300.8,"v":0.18},{"t":301.3,"v":0.12},
{"t":301.7,"v":0.12},{"t":302.0,"v":0.43},{"t":302.15,"v":0.41},{"t":302.3,"v":0.34},{"t":302.42,"v":0.36},{"t":302.6,"v":0.27},{"t":302.75,"v":0.28},{"t":302.95,"v":0.21},{"t":303.15,"v":0.2},{"t":303.45,"v":0.12},{"t":303.8,"v":0.17},{"t":304.17,"v":0.23},{"t":304.5,"v":0.14},{"t":305.0,"v":0.18},{"t":305.5,"v":0.13},
{"t":305.89,"v":0.13},{"t":306.19,"v":0.44},{"t":306.34,"v":0.4},{"t":306.49,"v":0.33},{"t":306.61,"v":0.35},{"t":306.79,"v":0.26},{"t":306.94,"v":0.27},{"t":307.14,"v":0.21},{"t":307.34,"v":0.2},{"t":307.64,"v":0.12},{"t":307.99,"v":0.16},{"t":308.36,"v":0.23},{"t":308.69,"v":0.14},{"t":309.19,"v":0.18},{"t":309.69,"v":0.12},
{"t":310.09,"v":0.12},{"t":310.39,"v":0.39},{"t":310.54,"v":0.36},{"t":310.69,"v":0.3},{"t":310.81,"v":0.32},{"t":310.99,"v":0.24},{"t":311.14,"v":0.25},{"t":311.34,"v":0.2},{"t":311.54,"v":0.19},{"t":311.84,"v":0.12},{"t":312.19,"v":0.16},{"t":312.56,"v":0.22},{"t":312.89,"v":0.14},{"t":313.39,"v":0.18},{"t":313.89,"v":0.12},
{"t":314.28,"v":0.12},{"t":314.58,"v":0.34},{"t":314.73,"v":0.3},{"t":314.88,"v":0.26},{"t":315.0,"v":0.27}
]},
"layer":[
 {"data":{"name":"signal"},
  "mark":{"type":"line","color":"black","strokeWidth":1.5,"clip":true},
  "encoding":{
   "x":{"field":"t","type":"quantitative","scale":{"domain":[2.8,314.3],"nice":false,"zero":false},
        "axis":{"orient":"bottom","values":[50,100,150,200,250,300],"title":"Time(ps)","labelPadding":28,"titleX":612,"titleY":99,"titleAlign":"center","titleBaseline":"alphabetic"}},
   "y":{"field":"v","type":"quantitative","scale":{"domain":[0.105,5.362],"nice":false,"zero":false},
        "axis":{"orient":"left","values":[0.5,1,1.5,2,2.5,3,3.5,4,4.5,5],"format":"~g","title":"Intensity (a.u)","labelPadding":24,"titleAngle":-90,"titleX":-93,"titleY":494,"titleAlign":"center","titleBaseline":"alphabetic"}}
  }},
 {"data":{"name":"notes"},
  "mark":{"type":"text","color":"#008000","font":"DejaVu Sans Condensed, DejaVu Sans","fontWeight":"bold","fontSize":62,"align":"center","baseline":"alphabetic"},
  "encoding":{
   "x":{"field":"t","type":"quantitative","axis":{"orient":"top","values":[50,100,150,200,250,300],"labels":false,"title":null,"domain":false}},
   "y":{"field":"v","type":"quantitative","axis":{"orient":"right","values":[0.5,1,1.5,2,2.5,3,3.5,4,4.5,5],"labels":false,"title":null,"domain":false}},
   "text":{"field":"label"}
  }}
],
"resolve":{"axis":{"x":"independent","y":"independent"}}
}
